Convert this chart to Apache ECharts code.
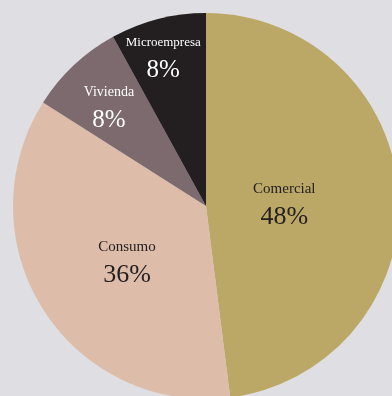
<!DOCTYPE html>
<html>
<head>
<meta charset="utf-8">
<script src="https://cdn.jsdelivr.net/npm/echarts@6/dist/echarts.min.js"></script>
<style>
html,body{margin:0;padding:0;background:#dfdee2;}
#c{width:392px;height:396px;}
</style>
</head>
<body>
<div id="c"></div>
<script>
const categories = ['Comercial', 'Consumo', 'Vivienda', 'Microempresa'];
const values = [48, 36, 8, 8];
const percentLabels = ['48%', '36%', '8%', '8%'];

const colors = ['#bba867', '#ddbca9', '#7c6a6f', '#231f20'];
const textColors = ['#231f20', '#231f20', '#ffffff', '#ffffff'];
const labelOffsets = [[-21, 6], [5, 5], [-29, -24], [-18, -50]];
const nameSizes = [15, 15, 14, 13];
const pctSizes = [26, 26, 25, 25];

const chart = echarts.init(document.getElementById('c'), null, {renderer: 'canvas'});
const data = categories.map((name, i) => ({
  name: name,
  value: values[i],
  itemStyle: {color: colors[i]},
  label: {
    offset: labelOffsets[i],
    formatter: '{n|' + name + '}\n{p|' + percentLabels[i] + '}',
    rich: {
      n: {fontFamily: 'Liberation Serif', fontSize: nameSizes[i], color: textColors[i], lineHeight: 22, align: 'center'},
      p: {fontFamily: 'Liberation Serif', fontSize: pctSizes[i], color: textColors[i], lineHeight: 34, align: 'center'}
    }
  }
}));

chart.setOption({
  backgroundColor: '#dfdee2',
  animation: false,
  series: [{
    type: 'pie',
    center: [206, 206],
    radius: [0, 193],
    startAngle: 90,
    clockwise: true,
    avoidLabelOverlap: false,
    itemStyle: {borderWidth: 0},
    label: {show: true, position: 'inside'},
    labelLine: {show: false},
    emphasis: {disabled: true},
    data: data
  }]
});
</script>
</body>
</html>
